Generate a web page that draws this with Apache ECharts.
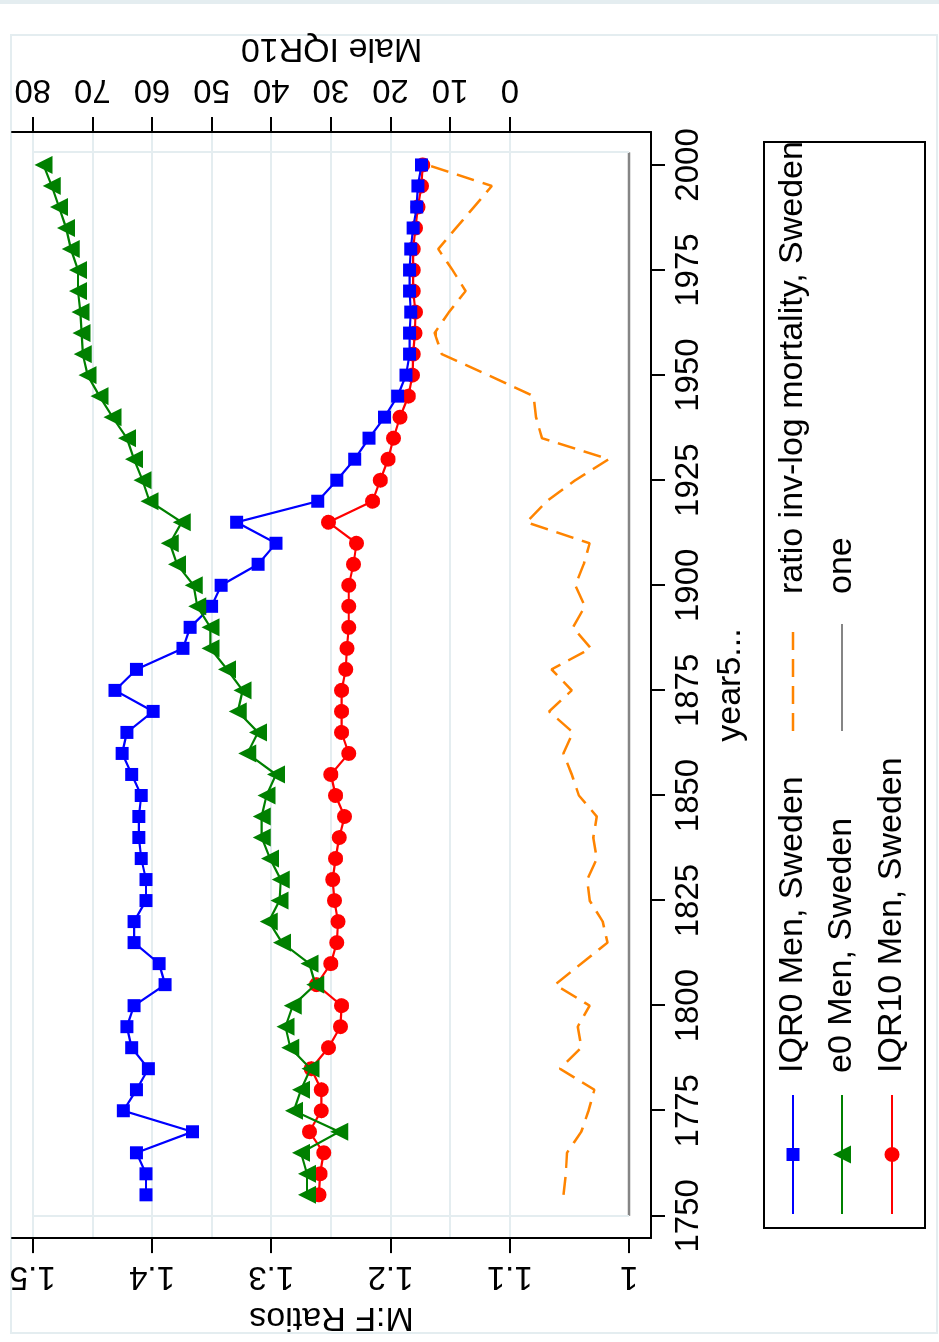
<!DOCTYPE html>
<html>
<head>
<meta charset="utf-8">
<script src="https://cdn.jsdelivr.net/npm/echarts@6/dist/echarts.min.js"></script>
<style>
  html, body { margin: 0; padding: 0; background: #fff; overflow: hidden; width: 939px; height: 1342px; }
  /* the graph is laid out landscape and turned a quarter turn counter-clockwise */
  #chart { position: absolute; left: 0; top: 0; width: 1342px; height: 939px;
           transform-origin: 0 0; transform: translateY(1342px) rotate(-90deg); }
</style>
</head>
<body>
<div id="chart"></div>
<script>
// ---- data: Sweden, five-year steps ----
const years = [1755, 1760, 1765, 1770, 1775, 1780, 1785, 1790, 1795, 1800,
               1805, 1810, 1815, 1820, 1825, 1830, 1835, 1840, 1845, 1850,
               1855, 1860, 1865, 1870, 1875, 1880, 1885, 1890, 1895, 1900,
               1905, 1910, 1915, 1920, 1925, 1930, 1935, 1940, 1945, 1950,
               1955, 1960, 1965, 1970, 1975, 1980, 1985, 1990, 1995, 2000];

// M:F ratio of IQR0 (men)
const iqr0Men = [1.405, 1.405, 1.413, 1.366, 1.424, 1.413, 1.403, 1.417, 1.421, 1.415,
                 1.389, 1.394, 1.415, 1.415, 1.405, 1.405, 1.409, 1.411, 1.411, 1.409,
                 1.417, 1.425, 1.421, 1.399, 1.431, 1.413, 1.374, 1.368, 1.350, 1.342,
                 1.311, 1.296, 1.329, 1.261, 1.245, 1.230, 1.218, 1.205, 1.194, 1.187,
                 1.184, 1.184, 1.183, 1.184, 1.184, 1.183, 1.181, 1.178, 1.177, 1.174];

// M:F ratio of e0 (men)
const e0Men = [1.270, 1.270, 1.275, 1.243, 1.281, 1.275, 1.267, 1.284, 1.288, 1.282,
               1.263, 1.268, 1.291, 1.302, 1.293, 1.292, 1.301, 1.308, 1.308, 1.304,
               1.296, 1.320, 1.311, 1.328, 1.324, 1.337, 1.351, 1.351, 1.362, 1.365,
               1.379, 1.385, 1.375, 1.402, 1.408, 1.415, 1.421, 1.433, 1.444, 1.454,
               1.458, 1.459, 1.460, 1.462, 1.462, 1.468, 1.472, 1.478, 1.484, 1.491];

// Male IQR10, in years (right-hand axis)
const iqr10Men = [32.0, 31.8, 31.2, 33.6, 31.6, 31.6, 33.3, 30.4, 28.4, 28.2,
                  32.4, 30.0, 29.0, 28.8, 29.4, 29.7, 29.2, 28.6, 27.7, 29.2,
                  30.0, 27.0, 28.2, 28.2, 28.2, 27.5, 27.3, 27.0, 27.0, 27.0,
                  26.2, 25.7, 30.4, 23.0, 21.7, 20.4, 19.5, 18.4, 17.0, 16.3,
                  16.2, 15.9, 15.8, 16.2, 16.2, 16.2, 15.8, 15.4, 14.8, 14.6];

// ratio of inverse-log mortality
const invLogMortality = [1.055, 1.053, 1.052, 1.040, 1.034, 1.029, 1.058, 1.040, 1.043, 1.033,
                         1.062, 1.040, 1.018, 1.022, 1.033, 1.035, 1.027, 1.030, 1.027, 1.042,
                         1.048, 1.055, 1.047, 1.067, 1.048, 1.065, 1.032, 1.047, 1.037, 1.045,
                         1.038, 1.033, 1.086, 1.069, 1.045, 1.017, 1.073, 1.078, 1.080, 1.118,
                         1.157, 1.163, 1.151, 1.137, 1.148, 1.160, 1.145, 1.130, 1.115, 1.169];

// reference line at a ratio of one
const oneYears = [1750, 2003];
const oneValues = [1, 1];

// axis ticks
const yearTicks = [1750, 1775, 1800, 1825, 1850, 1875, 1900, 1925, 1950, 1975, 2000];
const ratioTicks = [1, 1.1, 1.2, 1.3, 1.4, 1.5];
const iqr10Ticks = [0, 10, 20, 30, 40, 50, 60, 70, 80];

// ---- layout (landscape pixels, before the quarter turn) ----
const W = 1342, H = 939;
const PLOT = { left: 102, right: 1210, top: 12, bottom: 651 };
const YEAR_PX = { at1750: 124.3, at2000: 1177 };
const RATIO_PX = { at1: 629, at15: 32.7 };

const pxPerYear = (YEAR_PX.at2000 - YEAR_PX.at1750) / 250;
const yearMin = 1750 - (YEAR_PX.at1750 - PLOT.left) / pxPerYear;
const yearMax = 2000 + (PLOT.right - YEAR_PX.at2000) / pxPerYear;
const pxPerRatio = (RATIO_PX.at1 - RATIO_PX.at15) / 0.5;
const ratioMin = 1 - (PLOT.bottom - RATIO_PX.at1) / pxPerRatio;
const ratioMax = 1.5 + (RATIO_PX.at15 - PLOT.top) / pxPerRatio;
// Male IQR10 axis: 0 sits on ratio 1.1, 80 on ratio 1.5
const toIqr = r => (r - 1.1) * 200;
const iqrMin = toIqr(ratioMin);
const iqrMax = toIqr(ratioMax);

const FONT = 'Liberation Sans';
const TICK_FS = 33;
const TITLE_FS = 34;
const GRID_COL = '#e4edf0';
const FRAME_COL = '#e4edf0';

const COLORS = { iqr0: '#0000ff', e0: '#008000', iqr10: '#ff0000', inv: '#ff8400', one: '#858585' };
const DASH = [18, 9];
const SIZES = { rect: 13, triangle: 18, circle: 15 };
const LINE_W = 2.2;

const pairs = (xs, vs) => xs.map((x, i) => [x, vs[i]]);

const legendItems = [
  { name: 'IQR0 Men, Sweden', color: COLORS.iqr0, symbol: 'rect', dash: null },
  { name: 'e0 Men, Sweden', color: COLORS.e0, symbol: 'triangle', dash: null },
  { name: 'IQR10 Men, Sweden', color: COLORS.iqr10, symbol: 'circle', dash: null },
  { name: 'ratio inv-log mortality, Sweden', color: COLORS.inv, symbol: null, dash: DASH },
  { name: 'one', color: COLORS.one, symbol: null, dash: null }
];

function symbolShape(kind, cx, cy, color) {
  const h = SIZES[kind] / 2;
  if (kind === 'rect') {
    return { type: 'rect', shape: { x: cx - h, y: cy - h, width: 2 * h, height: 2 * h }, style: { fill: color } };
  }
  if (kind === 'circle') {
    return { type: 'circle', shape: { cx: cx, cy: cy, r: h }, style: { fill: color } };
  }
  return { type: 'polygon', shape: { points: [[cx, cy - h], [cx + h, cy + h], [cx - h, cy + h]] }, style: { fill: color } };
}

// legend: two columns, filled column by column
function buildLegend() {
  const box = { x0: 114, x1: 1200, y0: 764, y1: 925 };
  const rows = [793, 842, 892];
  const cols = [
    { keyX0: 128, keyX1: 247, textX: 269 },
    { keyX0: 611, keyX1: 718, textX: 748 }
  ];
  const els = [{
    type: 'rect',
    shape: { x: box.x0, y: box.y0, width: box.x1 - box.x0, height: box.y1 - box.y0 },
    style: { fill: '#fff', stroke: '#000', lineWidth: 2 }
  }];
  legendItems.forEach((it, i) => {
    const c = cols[Math.floor(i / 3)];
    const y = rows[i % 3];
    els.push({
      type: 'line',
      shape: { x1: c.keyX0, y1: y, x2: c.keyX1, y2: y },
      style: { stroke: it.color, lineWidth: it.dash ? 2.5 : LINE_W, lineDash: it.dash || null }
    });
    if (it.symbol) els.push(symbolShape(it.symbol, (c.keyX0 + c.keyX1) / 2, y, it.color));
    els.push({
      type: 'text',
      style: { text: it.name, x: c.textX, y: y, fill: '#000', font: TITLE_FS + 'px "' + FONT + '"', verticalAlign: 'middle', align: 'left' }
    });
  });
  return els;
}

const frameEls = [
  { type: 'rect', shape: { x: 9, y: 11, width: 1298, height: 926 }, style: { fill: null, stroke: FRAME_COL, lineWidth: 2 }, z: -1 },
  { type: 'rect', shape: { x: W - 4, y: 0, width: 4, height: H }, style: { fill: FRAME_COL }, z: -1 }
];

const axisLineStyle = { color: '#000', width: 2 };
const labelStyle = { color: '#000', fontSize: TICK_FS, fontFamily: FONT };
const nameStyle = { color: '#000', fontSize: TITLE_FS, fontFamily: FONT };

const chart = echarts.init(document.getElementById('chart'), null, { renderer: 'canvas', width: W, height: H });

chart.setOption({
  animation: false,
  backgroundColor: '#fff',
  grid: { left: PLOT.left, right: W - PLOT.right, top: PLOT.top, bottom: H - PLOT.bottom, containLabel: false },
  xAxis: {
    type: 'value', min: yearMin, max: yearMax, position: 'bottom',
    name: 'year5...', nameLocation: 'middle', nameGap: 63, nameTextStyle: nameStyle,
    axisLine: { show: true, onZero: false, lineStyle: axisLineStyle },
    axisTick: { show: true, length: 14, customValues: yearTicks, lineStyle: axisLineStyle },
    axisLabel: { customValues: yearTicks, margin: 21, ...labelStyle, formatter: v => String(v) },
    splitLine: { show: false }
  },
  yAxis: [
    {
      type: 'value', min: ratioMin, max: ratioMax, position: 'left',
      name: 'M:F Ratios', nameLocation: 'middle', nameRotate: 90, nameGap: 50, nameTextStyle: nameStyle,
      axisLine: { show: true, onZero: false, lineStyle: axisLineStyle },
      axisTick: { show: true, length: 15, customValues: ratioTicks, lineStyle: axisLineStyle },
      axisLabel: { customValues: ratioTicks, rotate: 90, margin: 21, ...labelStyle, formatter: v => String(v) },
      splitLine: { show: false }
    },
    {
      type: 'value', min: iqrMin, max: iqrMax, position: 'right',
      name: 'Male IQR10', nameLocation: 'middle', nameRotate: 90, nameGap: 60, nameTextStyle: nameStyle,
      axisLine: { show: true, onZero: false, lineStyle: axisLineStyle },
      axisTick: { show: true, length: 15, customValues: iqr10Ticks, lineStyle: axisLineStyle },
      axisLabel: { customValues: iqr10Ticks, rotate: 90, margin: 26, ...labelStyle, formatter: v => String(v) },
      splitLine: { show: true, lineStyle: { color: GRID_COL, width: 2 } }
    }
  ],
  graphic: { elements: frameEls.concat(buildLegend()) },
  series: [
    {
      // inner plot-region edges
      type: 'line', name: 'frame', data: [], z: 1, silent: true,
      markLine: {
        silent: true, symbol: 'none', label: { show: false },
        lineStyle: { color: FRAME_COL, width: 2, type: 'solid' },
        data: [
          [{ coord: [1750, 1] }, { coord: [1750, 1.5] }],
          [{ coord: [2003, 1] }, { coord: [2003, 1.5] }]
        ]
      }
    },
    {
      type: 'line', name: 'one', data: pairs(oneYears, oneValues), yAxisIndex: 0,
      symbol: 'none', lineStyle: { color: COLORS.one, width: 2.5 }, z: 2
    },
    {
      type: 'line', name: 'IQR10 Men, Sweden', data: pairs(years, iqr10Men), yAxisIndex: 1,
      symbol: 'circle', symbolSize: SIZES.circle, itemStyle: { color: COLORS.iqr10 },
      lineStyle: { color: COLORS.iqr10, width: LINE_W }, z: 3
    },
    {
      type: 'line', name: 'IQR0 Men, Sweden', data: pairs(years, iqr0Men), yAxisIndex: 0,
      symbol: 'rect', symbolSize: SIZES.rect, itemStyle: { color: COLORS.iqr0 },
      lineStyle: { color: COLORS.iqr0, width: LINE_W }, z: 4
    },
    {
      type: 'line', name: 'e0 Men, Sweden', data: pairs(years, e0Men), yAxisIndex: 0,
      symbol: 'triangle', symbolSize: SIZES.triangle, itemStyle: { color: COLORS.e0 },
      lineStyle: { color: COLORS.e0, width: LINE_W }, z: 5
    },
    {
      type: 'line', name: 'ratio inv-log mortality, Sweden', data: pairs(years, invLogMortality), yAxisIndex: 0,
      symbol: 'none', lineStyle: { color: COLORS.inv, width: 2.5, type: DASH }, z: 6
    }
  ]
});
</script>
</body>
</html>
